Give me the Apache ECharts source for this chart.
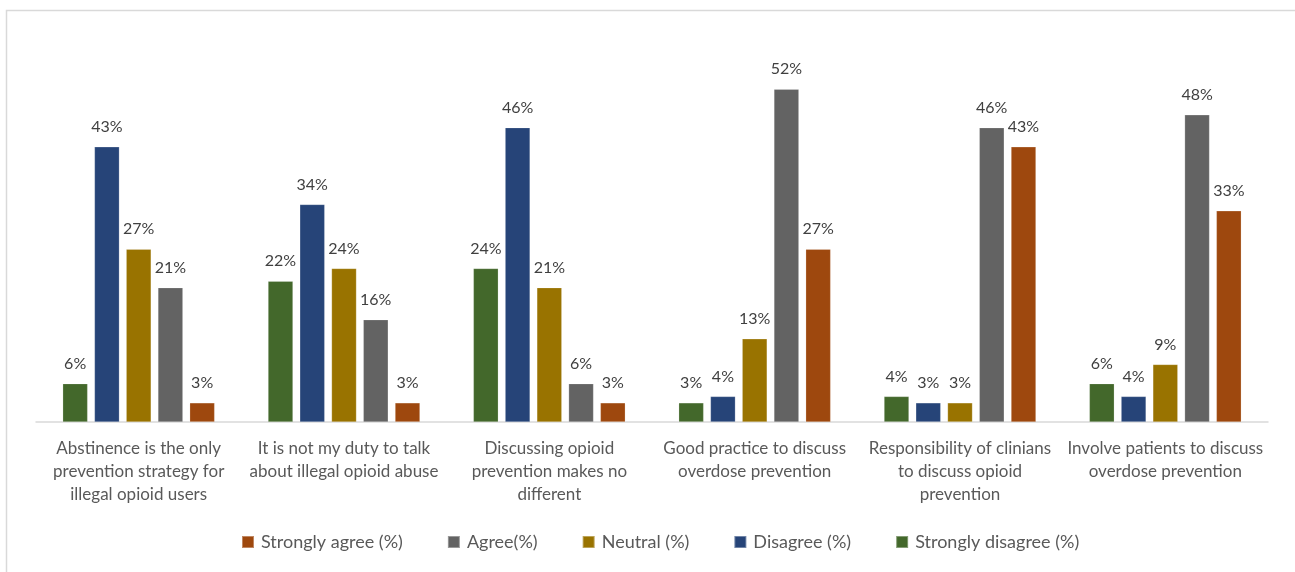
<!DOCTYPE html>
<html>
<head>
<meta charset="utf-8">
<script src="https://cdn.jsdelivr.net/npm/echarts@6/dist/echarts.min.js"></script>
<style>
  html, body { margin: 0; padding: 0; background: #ffffff; }
  #chart { width: 1295px; height: 572px; }
</style>
</head>
<body>
<div id="chart"></div>
<script>
// Survey statements (x-axis categories)
const categories = [
  'Abstinence is the only\nprevention strategy for\nillegal opioid users',
  'It is not my duty to talk\nabout illegal opioid abuse',
  'Discussing opioid\nprevention makes no\ndifferent',
  'Good practice to discuss\noverdose prevention',
  'Responsibility of clinians\nto discuss opioid\nprevention',
  'Involve patients to discuss\noverdose prevention'
];

// Response shares, percent
const stronglyDisagree = [6, 22, 24, 3, 4, 6];
const disagree         = [43, 34, 46, 4, 3, 4];
const neutral          = [27, 24, 21, 13, 3, 9];
const agree            = [21, 16, 6, 52, 46, 48];
const stronglyAgree    = [3, 3, 3, 27, 43, 33];

// Legend order (reversed from bar order)
const legendOrder = ['Strongly agree (%)', 'Agree(%)', 'Neutral (%)', 'Disagree (%)', 'Strongly disagree (%)'];

const FONT = 'Lato, "Noto Sans", sans-serif';

function barSeries(name, data, color) {
  return {
    name: name,
    type: 'bar',
    data: data,
    barWidth: 25,
    barGap: '27%',
    itemStyle: { color: color, borderColor: 'rgba(255,255,255,0.35)', borderWidth: 0.6 },
    label: {
      show: true,
      position: 'top',
      distance: 12,
      formatter: '{c}%',
      color: '#404040',
      fontFamily: FONT,
      fontSize: 16
    }
  };
}

const chart = echarts.init(document.getElementById('chart'), null, { renderer: 'canvas' });
chart.setOption({
  animation: false,
  backgroundColor: '#ffffff',
  graphic: [{
    type: 'rect',
    shape: { x: 6.5, y: 10.5, width: 1400, height: 700 },
    style: { fill: 'none', stroke: '#d9d9d9', lineWidth: 1.5 },
    silent: true,
    z: -1
  }],
  grid: { left: 36, right: 27, top: 38, bottom: 150, containLabel: false },
  legend: {
    data: legendOrder,
    bottom: 16,
    left: 236,
    itemWidth: 12,
    itemHeight: 12,
    itemGap: 44,
    icon: 'rect',
    textStyle: { color: '#595959', fontFamily: FONT, fontSize: 18, padding: [0, 0, 0, 2] }
  },
  xAxis: {
    type: 'category',
    data: categories,
    axisLine: { show: true, lineStyle: { color: '#d9d9d9', width: 1.5 } },
    axisTick: { show: false },
    axisLabel: {
      interval: 0,
      margin: 15,
      color: '#595959',
      fontFamily: FONT,
      fontSize: 17,
      lineHeight: 23
    }
  },
  yAxis: {
    type: 'value',
    min: 0,
    max: 60,
    show: false,
    splitLine: { show: false }
  },
  series: [
    barSeries('Strongly disagree (%)', stronglyDisagree, '#43682b'),
    barSeries('Disagree (%)', disagree, '#264478'),
    barSeries('Neutral (%)', neutral, '#997300'),
    barSeries('Agree(%)', agree, '#636363'),
    barSeries('Strongly agree (%)', stronglyAgree, '#9e480e')
  ]
});
</script>
</body>
</html>
